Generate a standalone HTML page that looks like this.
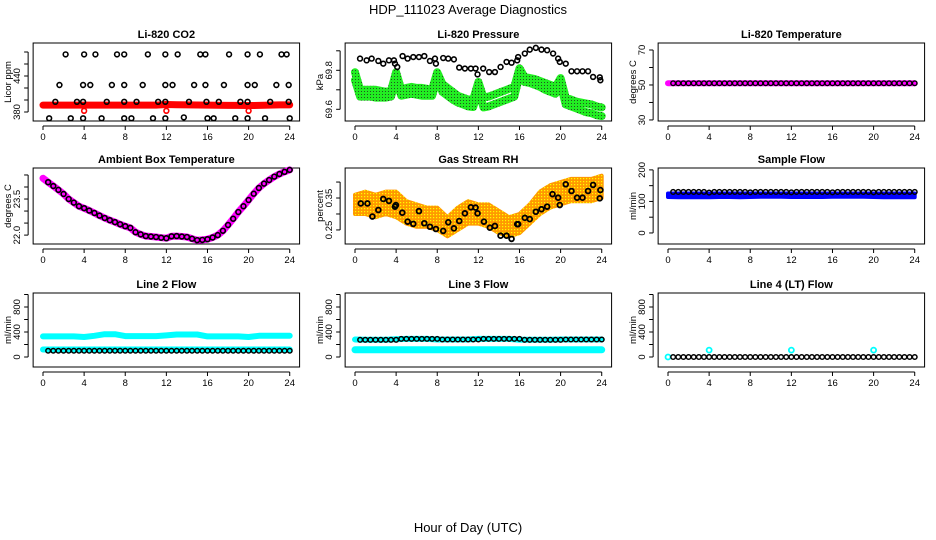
<!DOCTYPE html>
<html><head><meta charset="utf-8"><style>
html,body{margin:0;padding:0;background:#fff;}
svg{display:block;font-family:"Liberation Sans",sans-serif;}
</style></head><body>
<svg id="chart" width="936" height="540" viewBox="0 0 936 540">
<text x="468" y="14" text-anchor="middle" font-size="13">HDP_111023  Average Diagnostics</text>
<text x="468" y="532" text-anchor="middle" font-size="13">Hour of Day (UTC)</text>
</svg>
<script>
// ---------- data ----------
const xTicks = [0,4,8,12,16,20,24];
const xTickLabels = ["0","4","8","12","16","20","24"];
const halfHours = [0.5,1,1.5,2,2.5,3,3.5,4,4.5,5,5.5,6,6.5,7,7.5,8,8.5,9,9.5,10,10.5,11,11.5,12,12.5,13,13.5,14,14.5,15,15.5,16,16.5,17,17.5,18,18.5,19,19.5,20,20.5,21,21.5,22,22.5,23,23.5,24];
const hours25 = [0,1,2,3,4,5,6,7,8,9,10,11,12,13,14,15,16,17,18,19,20,21,22,23,24];

// CO2
const co2TopHours = [2.2,4.0,5.1,7.2,7.9,10.2,11.9,13.1,15.3,15.8,18.1,19.9,21.1,23.2,23.7];
const co2TopVals = [476,476,476,476,476,476,476,476,476,476,476,476,476,476,476];
const co2MidHours = [1.6,3.9,4.6,6.7,7.9,9.7,11.9,12.6,14.7,15.8,17.6,19.9,20.6,22.7,23.9];
const co2MidVals = [425,425,425,425,425,425,425,425,425,425,425,425,425,425,425];
const co2LowHours = [1.2,3.3,3.9,6.2,7.9,9.1,11.2,11.9,14.2,15.9,17.1,19.2,19.9,22.1,23.9];
const co2LowVals = [397,397,397,397,397,397,397,397,397,397,397,397,397,397,397];
const co2BotHours = [0.6,2.7,3.9,5.7,7.9,8.6,10.7,11.9,13.7,16.0,16.6,18.7,19.9,21.6,24.0];
const co2BotVals = [369.5,369.5,369.5,369.5,369.5,369.5,369.5,369.5,371,369.5,369.5,369.5,369.5,369.5,369.5];
const co2RedVals = [391.5,391.5,391.5,391.5,391.5,391.5,391.5,391.5,391.5,391.5,391.5,391.5,392.5,392,391.8,391.6,391.5,391.4,391,391,390.8,391,391.5,391.8,391.8];
const co2RedDotHours = [4,12,20];
const co2RedDotVals = [382,382,382];

// Pressure
const presHours = [0.49,1.13,1.62,2.27,2.75,3.3,3.79,3.89,4.11,4.63,5.12,5.67,6.22,6.74,7.29,7.78,7.87,8.58,9.07,9.62,10.14,10.69,11.27,11.73,11.92,12.47,13.05,13.61,14.16,14.74,15.23,15.78,15.87,16.52,17.0,17.59,18.14,18.69,19.27,19.76,19.92,20.5,21.06,21.6,22.13,22.67,23.16,23.81,23.87];
const presVals = [69.860,69.851,69.860,69.848,69.834,69.851,69.851,69.834,69.817,69.873,69.860,69.868,69.868,69.873,69.848,69.860,69.834,69.863,69.860,69.856,69.814,69.809,69.809,69.809,69.779,69.809,69.791,69.791,69.817,69.843,69.839,69.851,69.868,69.886,69.906,69.915,69.906,69.903,69.886,69.860,69.843,69.834,69.795,69.795,69.795,69.795,69.766,69.764,69.749];
const greenHours = [0,0.5,1,1.5,2,2.5,3,3.5,4,4.5,5,5.5,6,6.5,7,7.5,8,8.5,9,9.5,10,10.5,11,11.5,12,12.5,13,13.5,14,14.5,15,15.5,16,16.5,17,17.5,18,18.5,19,19.5,20,20.5,21,21.5,22,22.5,23,23.5,24];
const greenUpper = [69.79,69.70,69.70,69.70,69.70,69.695,69.69,69.695,69.79,69.70,69.71,69.715,69.71,69.71,69.705,69.70,69.79,69.73,69.71,69.69,69.67,69.66,69.65,69.65,69.74,69.66,69.665,69.675,69.685,69.695,69.705,69.715,69.81,69.765,69.76,69.755,69.745,69.735,69.725,69.715,69.76,69.66,69.65,69.64,69.635,69.63,69.625,69.615,69.61];
const greenLower = [69.75,69.665,69.665,69.665,69.66,69.66,69.66,69.665,69.75,69.67,69.675,69.68,69.675,69.67,69.67,69.67,69.76,69.69,69.67,69.65,69.635,69.625,69.615,69.612,69.70,69.61,69.615,69.625,69.635,69.645,69.655,69.665,69.775,69.74,69.735,69.725,69.715,69.70,69.69,69.68,69.73,69.625,69.615,69.605,69.595,69.585,69.58,69.57,69.565];

// Li-820 temperature
const tempVals = [51,51,51,51,51,51,51,51,51,51,51,51,51,51,51,51,51,51,51,51,51,51,51,51,51,51,51,51,51,51,51,51,51,51,51,51,51,51,51,51,51,51,51,51,51,51,51,51];
const tempBand = [51,51,51,51,51,51,51,51,51,51,51,51,51,51,51,51,51,51,51,51,51,51,51,51,51];

// Ambient box temperature
const ambHours = [0,0.5,1,1.5,2,2.5,3,3.5,4,4.5,5,5.5,6,6.5,7,7.5,8,8.5,9,9.5,10,10.5,11,11.5,12,12.5,13,13.5,14,14.5,15,15.5,16,16.5,17,17.5,18,18.5,19,19.5,20,20.5,21,21.5,22,22.5,23,23.5,24];
const ambVals = [24.36,24.2,24.04,23.88,23.71,23.5,23.35,23.2,23.12,23.02,22.92,22.81,22.71,22.62,22.54,22.45,22.37,22.3,22.12,22.03,21.96,21.94,21.92,21.89,21.87,21.95,21.96,21.94,21.92,21.85,21.79,21.8,21.83,21.9,22.0,22.18,22.42,22.68,22.96,23.2,23.46,23.72,23.96,24.14,24.29,24.43,24.54,24.63,24.71];

// Gas stream RH
const rhHours = [0.56,1.21,1.69,2.27,2.75,3.3,3.89,3.98,4.6,5.12,5.67,6.22,6.74,7.29,7.87,8.58,9.07,9.62,10.14,10.69,11.27,11.73,11.92,12.54,13.12,13.61,14.16,14.74,15.23,15.78,15.87,16.52,17.0,17.59,18.14,18.69,19.21,19.76,19.92,20.5,21.06,21.6,22.13,22.67,23.16,23.81,23.87];
const rhVals = [0.333,0.333,0.292,0.3125,0.347,0.341,0.323,0.328,0.304,0.276,0.269,0.309,0.271,0.26,0.253,0.247,0.274,0.255,0.278,0.302,0.321,0.32,0.302,0.276,0.257,0.2625,0.232,0.232,0.222,0.268,0.268,0.288,0.284,0.307,0.315,0.323,0.362,0.351,0.328,0.393,0.372,0.351,0.351,0.372,0.391,0.349,0.375];
const rhBandHigh = [0.36,0.37,0.36,0.37,0.37,0.34,0.33,0.32,0.32,0.29,0.32,0.34,0.33,0.33,0.31,0.29,0.30,0.33,0.37,0.39,0.40,0.41,0.41,0.41,0.42];
const rhBandLow = [0.30,0.30,0.29,0.30,0.29,0.27,0.26,0.26,0.25,0.23,0.25,0.27,0.27,0.26,0.24,0.23,0.24,0.27,0.30,0.32,0.33,0.34,0.34,0.34,0.35];

// Sample flow
const sampleVals = [130,130,130,130,130,130,130,128,130,130,130,130,130,130,130,129,130,130,130,130,130,130,130,129,130,130,130,130,130,130,130,129,130,130,130,130,130,130,130,129,130,130,130,130,130,130,130,130];
const sampleBandHigh = [125,125,125,125,125,125,125,125,125,125,125,125,125,125,125,125,125,125,125,125,125,125,125,125,125];
const sampleBandLow = [114,113,113,113,113,114,114,113,114,115,115,115,114,114,114,114,115,115,115,115,114,113,113,113,113];

// Line 2 flow
const line2Black = [100,100,100,100,100,100,100,100,100,100,100,100,100,100,100,100,100,100,100,100,100,100,100,100,100,100,100,100,100,100,100,100,100,100,100,100,100,100,100,100,100,100,100,100,100,100,100,100];
const line2CyanHigh = [330,330,330,330,320,340,365,365,335,335,335,335,345,360,360,360,330,330,330,330,320,340,340,340,340];
const line2CyanLow = [120,120,120,120,120,120,120,120,120,120,120,120,120,120,120,120,120,120,120,120,120,120,120,120,120];

// Line 3 flow
const line3Black = [275,275,275,275,275,275,275,275,290,290,290,290,290,290,290,290,280,280,280,280,280,280,280,280,290,290,290,290,290,290,290,290,275,275,275,275,275,275,275,275,280,280,280,280,280,280,280,280];
const line3CyanHigh = [280,275,275,275,285,290,290,290,280,280,280,280,290,290,290,290,275,275,275,275,280,280,280,280,280];
const line3CyanLow = [115,115,115,115,115,115,115,115,115,115,115,115,115,115,115,115,115,115,115,115,115,115,115,115,115];

// Line 4 flow
const line4Black = [0,0,0,0,0,0,0,0,0,0,0,0,0,0,0,0,0,0,0,0,0,0,0,0,0,0,0,0,0,0,0,0,0,0,0,0,0,0,0,0,0,0,0,0,0,0,0,0];
const line4CyanHours = [0,4,12,20];
const line4CyanVals = [0,110,110,110];

// ---------- drawing ----------
const NS = "http://www.w3.org/2000/svg";
const svg = document.getElementById("chart");
const colX0 = [43,355,668];
const PX_PER_HR = 10.28;
const rowY = [[43,121],[168,244],[293,367]];

function mk(tag, attrs, parent){
  const e = document.createElementNS(NS, tag);
  for (const k in attrs) e.setAttribute(k, attrs[k]);
  (parent||svg).appendChild(e);
  return e;
}

function panel(col,row,title,ylab,ylim,yTicks,yLabels,slug){
  const g = mk("g",{});
  
  
  const x0 = colX0[col], top=rowY[row][0], bot=rowY[row][1];
  const sx = h => x0 + h*PX_PER_HR;
  const sy = v => bot - (v-ylim[0])/(ylim[1]-ylim[0])*(bot-top);
  const bl = sx(-0.96), br = sx(24.96);
  const t = mk("text",{x:(bl+br)/2,y:top-5,"text-anchor":"middle","font-size":"11","font-weight":"bold"},g);
  t.textContent = title;
  
  
  const box = mk("rect",{x:bl,y:top,width:br-bl,height:bot-top,fill:"none",stroke:"#000","stroke-width":"1"},g);
  
  
  const xa = mk("g",{},g);
  
  
  mk("line",{x1:sx(xTicks[0]),x2:sx(xTicks[xTicks.length-1]),y1:bot+5,y2:bot+5,stroke:"#000"},xa);
  xTicks.forEach((h,i)=>{
    mk("line",{x1:sx(h),x2:sx(h),y1:bot+5,y2:bot+9,stroke:"#000"},xa);
    const tl = mk("text",{x:sx(h),y:bot+19,"text-anchor":"middle","font-size":"9.5"},xa);
    tl.textContent = xTickLabels[i];
  });
  const ya = mk("g",{},g);
  
  
  const ax = bl-5;
  mk("line",{x1:ax,x2:ax,y1:sy(yTicks[0]),y2:sy(yTicks[yTicks.length-1]),stroke:"#000"},ya);
  yTicks.forEach(v=>mk("line",{x1:ax-4,x2:ax,y1:sy(v),y2:sy(v),stroke:"#000"},ya));
  yLabels.forEach(lbl=>{
    const v = parseFloat(lbl);
    const tl = mk("text",{x:0,y:0,"text-anchor":"middle","font-size":"9.5",transform:`translate(${ax-8},${sy(v)}) rotate(-90)`},ya);
    tl.textContent = lbl;
  });
  const yt = mk("text",{x:0,y:0,"text-anchor":"middle","font-size":"9.5",transform:`translate(${bl-22},${(top+bot)/2}) rotate(-90)`},g);
  yt.textContent = ylab;
  
  
  return {g,sx,sy};
}

function circles(p,hours,vals,color,name,r,sw){
  const g = mk("g",{},p.g);
  
  
  vals.forEach((v,i)=>{
    mk("circle",{cx:p.sx(hours[i]),cy:p.sy(v),r:r||2.4,fill:"none",stroke:color,"stroke-width":sw||1.6},g);
  });
}
function band(p,hours,vals,color,width,name){
  const pts = vals.map((v,i)=>p.sx(hours[i]).toFixed(1)+","+p.sy(v).toFixed(1)).join(" ");
  const pl = mk("polyline",{points:pts,fill:"none",stroke:color,"stroke-width":width,"stroke-linecap":"round","stroke-linejoin":"round"},p.g);
  
  
}
function area(p,hours,hi,lo,fill,name){
  const up = hi.map((v,i)=>p.sx(hours[i]).toFixed(1)+","+p.sy(v).toFixed(1));
  const dn = lo.map((v,i)=>p.sx(hours[i]).toFixed(1)+","+p.sy(v).toFixed(1)).reverse();
  const pg = mk("polygon",{points:up.concat(dn).join(" "),fill:fill,stroke:fill,"stroke-width":4,"stroke-linejoin":"round"},p.g);
  
  
}

const defs = mk("defs",{});
const pat = mk("pattern",{id:"rhpat",width:3,height:3,patternUnits:"userSpaceOnUse"},defs);
mk("rect",{width:3,height:3,fill:"#ff9900"},pat);
mk("rect",{x:1,y:1,width:1.2,height:1.2,fill:"#ffff00"},pat);
const gpat = mk("pattern",{id:"gpat",width:3,height:3,patternUnits:"userSpaceOnUse"},defs);
mk("rect",{width:3,height:3,fill:"#22ee22"},gpat);
mk("rect",{x:1,y:1,width:1,height:1,fill:"#225522"},gpat);

// Panel 1: CO2
let p = panel(0,0,"Li-820 CO2","Licor ppm",[365,495],[380,400,420,440,460,480],["380","440"],"co2");
band(p,hours25,co2RedVals,"#ff0000",7,"co2-red-band");
circles(p,co2RedDotHours,co2RedDotVals,"#ff0000","co2-red-points");
circles(p,co2TopHours,co2TopVals,"#000","co2-black-points-top");
circles(p,co2MidHours,co2MidVals,"#000","co2-black-points-mid");
circles(p,co2LowHours,co2LowVals,"#000","co2-black-points-low");
circles(p,co2BotHours,co2BotVals,"#000","co2-black-points-bottom");

// Panel 2: Pressure
p = panel(1,0,"Li-820 Pressure","kPa",[69.54,69.94],[69.6,69.7,69.8,69.9],["69.6","69.8"],"pressure");
band(p,greenHours,greenUpper,"url(#gpat)",8,"pressure-green-upper");
band(p,greenHours,greenLower,"url(#gpat)",8,"pressure-green-lower");
circles(p,presHours,presVals,"#000","pressure-black-points");

// Panel 3: Temperature
p = panel(2,0,"Li-820 Temperature","degrees C",[29.4,74],[30,40,50,60,70],["30","50","70"],"li820-temp");
band(p,hours25,tempBand,"#ff00ff",6,"li820-temp-magenta-band");
circles(p,halfHours,tempVals,"#000","li820-temp-black-points",2.3,1.4);

// Panel 4: Ambient
p = panel(0,1,"Ambient Box Temperature","degrees C",[21.63,24.79],[22.0,22.5,23.0,23.5,24.0,24.5],["22.0","23.5"],"ambient");
band(p,ambHours,ambVals,"#ff00ff",7,"ambient-magenta-band");
circles(p,ambHours.slice(1),ambVals.slice(1),"#000","ambient-black-points",2.4,1.6);

// Panel 5: RH
p = panel(1,1,"Gas Stream RH","percent",[0.206,0.444],[0.25,0.30,0.35,0.40],["0.25","0.35"],"rh");
area(p,hours25,rhBandHigh,rhBandLow,"url(#rhpat)","rh-orange-band");
circles(p,rhHours,rhVals,"#000","rh-black-points",2.4,1.8);

// Panel 6: Sample flow
p = panel(2,1,"Sample Flow","ml/min",[-35,206],[0,50,100,150,200],["0","100","200"],"sample-flow");
area(p,hours25,sampleBandHigh,sampleBandLow,"#0000ff","sample-flow-blue-band");
circles(p,halfHours,sampleVals,"#000","sample-flow-black-points",2.3,1.5);

// Panel 7: Line 2
p = panel(0,2,"Line 2 Flow","ml/min",[-160,1024],[0,200,400,600,800,1000],["0","400","800"],"line2");
band(p,hours25,line2CyanHigh,"#00ffff",6,"line2-cyan-upper");
band(p,hours25,line2CyanLow,"#00ffff",6,"line2-cyan-lower");
circles(p,halfHours,line2Black,"#000","line2-black-points",2.3,1.5);

// Panel 8: Line 3
p = panel(1,2,"Line 3 Flow","ml/min",[-160,1024],[0,200,400,600,800,1000],["0","400","800"],"line3");
band(p,hours25,line3CyanHigh,"#00ffff",6,"line3-cyan-upper");
band(p,hours25,line3CyanLow,"#00ffff",7,"line3-cyan-lower");
circles(p,halfHours,line3Black,"#000","line3-black-points",2.3,1.5);

// Panel 9: Line 4
p = panel(2,2,"Line 4 (LT) Flow","ml/min",[-160,1024],[0,200,400,600,800,1000],["0","400","800"],"line4");
circles(p,line4CyanHours,line4CyanVals,"#00ffff","line4-cyan-points",2.5,1.8);
circles(p,halfHours,line4Black,"#000","line4-black-points",2.3,1.5);
</script>
</body></html>
